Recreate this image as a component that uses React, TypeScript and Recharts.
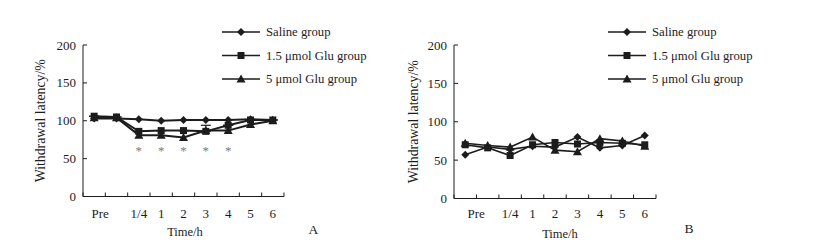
import { LineChart, Line, XAxis, YAxis, Legend, ErrorBar, Label } from "recharts";

// categories along the time axis (second baseline point has no label)
const timeLabels = ["Pre", "", "1/4", "1", "2", "3", "4", "5", "6"];
const yTicks = [0, 50, 100, 150, 200];

// panel A
const salineA = [103, 103, 102, 100, 101, 101, 101, 102, 101];
const glu15A = [106, 105, 86, 87, 87, 86, 94, 101, 101];
const glu5A = [104, 104, 81, 81, 78, 87, 87, 95, 100];
const glu15ErrA = [0, 0, 0, 0, 0, 8, 0, 0, 0];
const starsA = [null, null, 65, 65, 65, 65, 65, null, null];

// panel B
const salineB = [57, 67, 64, 68, 67, 80, 66, 69, 82];
const glu15B = [70, 66, 56, 70, 73, 71, 73, 72, 70];
const glu5B = [72, 69, 67, 80, 63, 61, 78, 75, 68];

const INK = "#1c1c1c";
const FONT = '"Liberation Serif", "Times New Roman", serif';

type Shape = "diamond" | "square" | "triangle";
const seriesOrder = ["saline", "glu15", "glu5"];
const shapeOf: Record<string, Shape> = { saline: "diamond", glu15: "square", glu5: "triangle" };

const buildRows = (
  saline: number[],
  glu15: number[],
  glu5: number[],
  err?: number[],
  stars?: (number | null)[]
) =>
  timeLabels.map((t, i) => ({
    pos: i + 0.5,
    time: t,
    saline: saline[i],
    glu15: glu15[i],
    glu5: glu5[i],
    glu15Err: [0, err ? err[i] : 0],
    star: stars ? stars[i] : null,
  }));

const rowsA = buildRows(salineA, glu15A, glu5A, glu15ErrA, starsA);
const rowsB = buildRows(salineB, glu15B, glu5B);

// tick every half step: whole steps carry tick marks, half steps carry the labels
const xTicks = Array.from({ length: timeLabels.length * 2 + 1 }, (_, i) => i / 2);

function Marker({ cx, cy, shape }: { cx?: number | null; cy?: number | null; shape: Shape }) {
  if (cx == null || cy == null) return null;
  if (shape === "square") return <rect x={cx - 3.5} y={cy - 3.5} width={7} height={7} fill={INK} />;
  if (shape === "triangle")
    return <polygon points={`${cx},${cy - 4.5} ${cx - 4.5},${cy + 3.5} ${cx + 4.5},${cy + 3.5}`} fill={INK} />;
  return <polygon points={`${cx},${cy - 4} ${cx + 4},${cy} ${cx},${cy + 4} ${cx - 4},${cy}`} fill={INK} />;
}

const dotFor = (shape: Shape) => (p: any) => (
  <g key={`${shape}-${p.index}`}>
    <Marker cx={p.cx} cy={p.cy} shape={shape} />
  </g>
);

const starDot = (p: any) => (
  <g key={`star-${p.index}`}>
    {p.cy != null && p.payload.star != null && (
      <text x={p.cx} y={p.cy + 8} textAnchor="middle" fontSize={13} fontFamily={FONT} fill="#7a7a7a">
        *
      </text>
    )}
  </g>
);

function TimeTick({ x, y, payload, preShift, baseline }: any) {
  const v = payload.value as number;
  if (Number.isInteger(v)) return <line x1={x} x2={x} y1={y} y2={y - 4} stroke={INK} />;
  const idx = Math.round(v - 0.5);
  const text = timeLabels[idx];
  if (!text) return <g />;
  return (
    <text x={x + (idx === 0 ? preShift : 0)} y={y + baseline} textAnchor="middle" fontSize={13} fontFamily={FONT} fill={INK}>
      {text}
    </text>
  );
}

function ValueTick({ x, y, payload, gap }: any) {
  return (
    <g>
      <text x={x} y={y} dy="0.35em" textAnchor="end" fontSize={13} fontFamily={FONT} fill={INK}>
        {payload.value}
      </text>
      <line x1={x + gap} x2={x + gap + 4} y1={y} y2={y} stroke={INK} />
    </g>
  );
}

function LegendRows({ payload }: any) {
  const items = (payload || [])
    .filter((e: any) => shapeOf[e.dataKey])
    .sort((a: any, b: any) => seriesOrder.indexOf(a.dataKey) - seriesOrder.indexOf(b.dataKey));
  return (
    <svg width={220} height={72}>
      {items.map((e: any, i: number) => {
        const y = 8 + i * 23.5;
        return (
          <g key={e.dataKey}>
            <line x1={0} x2={38} y1={y} y2={y} stroke={INK} strokeWidth={1.5} />
            <Marker cx={19} cy={y} shape={shapeOf[e.dataKey]} />
            <text x={44} y={y} dy="0.35em" fontSize={12.7} fontFamily={FONT} fill={INK}>
              {e.value}
            </text>
          </g>
        );
      })}
    </svg>
  );
}

type PanelProps = {
  rows: ReturnType<typeof buildRows>;
  left: number;
  width: number;
  margin: { top: number; right: number; bottom: number; left: number };
  yLabelOffset: number;
  preShift: number;
  tickBaseline: number;
  letter: string;
  letterOffset: number;
  letterDy: number;
  titleDx: number;
  legendLeft: number;
  lineWidth: number;
  extras?: boolean;
};

function Panel(p: PanelProps) {
  return (
    <div style={{ position: "absolute", left: p.left, top: 0 }}>
      <LineChart width={p.width} height={243} data={p.rows} margin={p.margin}>
        <XAxis
          dataKey="pos"
          type="number"
          domain={[0, timeLabels.length]}
          ticks={xTicks}
          interval={0}
          height={30}
          tickSize={0}
          tickMargin={0}
          tickLine={false}
          stroke={INK}
          tick={(t: any) => <TimeTick {...t} preShift={p.preShift} baseline={p.tickBaseline} />}
        >
          <Label
            value="Time/h"
            position="insideTop"
            offset={31}
            dx={p.titleDx}
            style={{ fontSize: 12.5, fontFamily: FONT, fill: INK }}
          />
          <Label
            value={p.letter}
            position="right"
            offset={p.letterOffset}
            dy={p.letterDy}
            style={{ fontSize: 13.5, fontFamily: FONT, fill: INK }}
          />
        </XAxis>
        <YAxis
          type="number"
          domain={[0, 200]}
          ticks={yTicks}
          interval={0}
          width={60}
          tickSize={0}
          tickMargin={7}
          tickLine={false}
          stroke={INK}
          tick={(t: any) => <ValueTick {...t} gap={7} />}
          label={{
            value: "Withdrawal latency/%",
            angle: -90,
            position: "insideLeft",
            offset: p.yLabelOffset,
            style: { textAnchor: "middle", fontSize: 13.8, fontFamily: FONT, fill: INK },
          }}
        />
        <Legend
          layout="vertical"
          align="center"
          verticalAlign="middle"
          content={<LegendRows />}
          wrapperStyle={{ left: p.legendLeft, top: 24, width: 220, height: 72 }}
        />
        <Line
          dataKey="saline"
          name="Saline group"
          stroke={INK}
          strokeWidth={p.lineWidth}
          dot={dotFor("diamond")}
          activeDot={false}
          isAnimationActive={false}
        />
        <Line
          dataKey="glu15"
          name="1.5 μmol Glu group"
          stroke={INK}
          strokeWidth={p.lineWidth}
          dot={dotFor("square")}
          activeDot={false}
          isAnimationActive={false}
        >
          {p.extras && (
            <ErrorBar dataKey="glu15Err" direction="y" width={5} stroke={INK} strokeWidth={1.2} isAnimationActive={false} />
          )}
        </Line>
        <Line
          dataKey="glu5"
          name="5 μmol Glu group"
          stroke={INK}
          strokeWidth={p.lineWidth}
          dot={dotFor("triangle")}
          activeDot={false}
          isAnimationActive={false}
        />
        {p.extras && (
          <Line
            dataKey="star"
            stroke="none"
            legendType="none"
            dot={starDot}
            activeDot={false}
            isAnimationActive={false}
          />
        )}
      </LineChart>
    </div>
  );
}

export default function App() {
  return (
    <div style={{ position: "absolute", left: 0, top: 0, width: 816, height: 243, background: "#fff", fontFamily: FONT }}>
      <Panel
        rows={rowsA}
        left={0}
        width={410}
        margin={{ top: 45, right: 126, bottom: 16.5, left: 23 }}
        yLabelOffset={17}
        preShift={6}
        tickBaseline={21}
        letter="A"
        letterOffset={24.5}
        letterDy={17.5}
        titleDx={1.5}
        legendLeft={222}
        lineWidth={2}
        extras
      />
      <Panel
        rows={rowsB}
        left={390}
        width={426}
        margin={{ top: 45, right: 160, bottom: 14.5, left: 4 }}
        yLabelOffset={19}
        preShift={11}
        tickBaseline={19.5}
        letter="B"
        letterOffset={28.5}
        letterDy={14.5}
        titleDx={5}
        legendLeft={218}
        lineWidth={1.6}
      />
    </div>
  );
}
